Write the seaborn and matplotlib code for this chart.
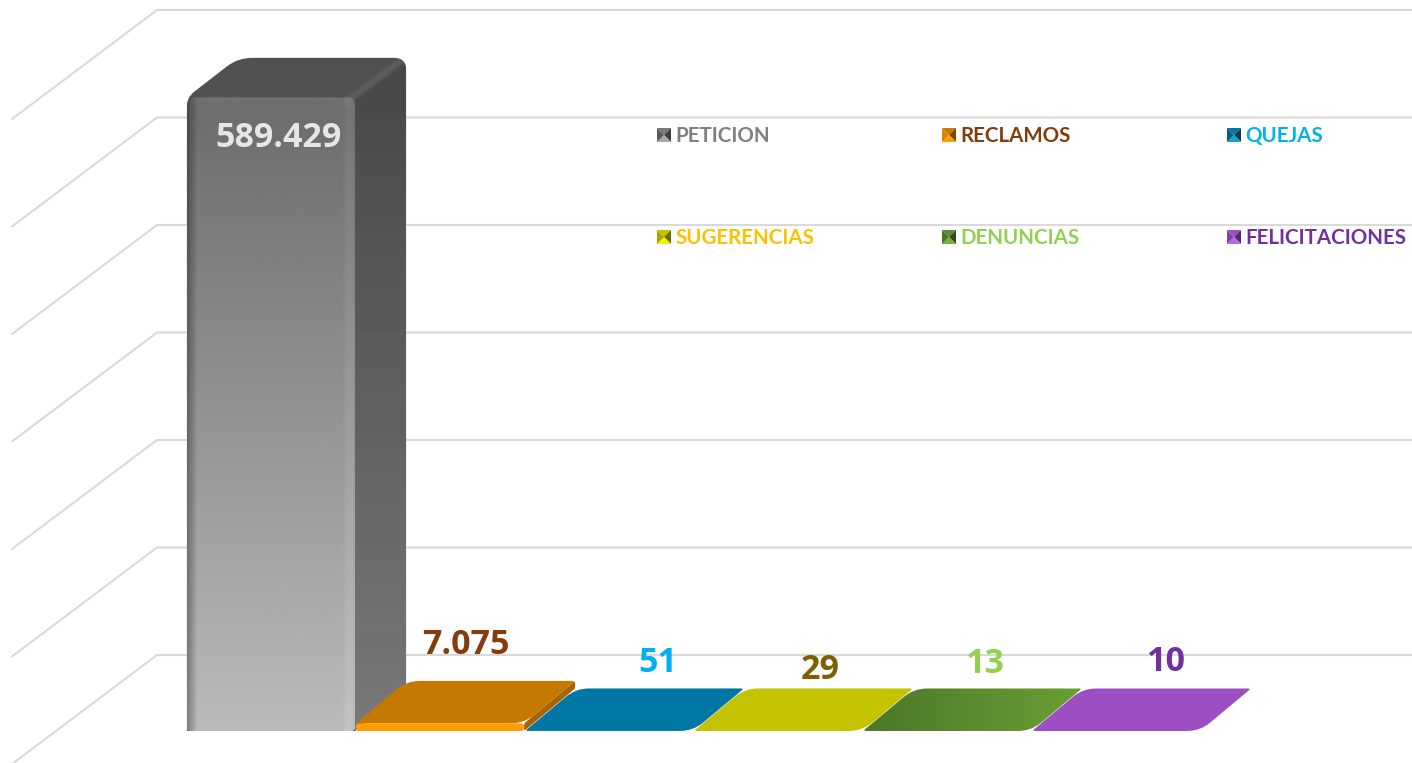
import numpy as np
import pandas as pd
import seaborn as sns
import matplotlib
matplotlib.use('Agg')
import matplotlib.pyplot as plt
from matplotlib.path import Path
from matplotlib.patches import PathPatch

categorias = ['PETICION', 'RECLAMOS', 'QUEJAS', 'SUGERENCIAS', 'DENUNCIAS', 'FELICITACIONES']
valores = [589429, 7075, 51, 29, 13, 10]
etiquetas = ['589.429', '7.075', '51', '29', '13', '10']
lineas = [0, 100000, 200000, 300000, 400000, 500000, 600000]

col_frente = ['#b8b8b8', '#ff9c00', '#0076a5', '#c3c300', '#5a8a2c', '#9b4fc2']
col_tapa = ['#505050', '#c47a00', '#0076a5', '#c3c300', '#5a8a2c', '#9b4fc2']
col_lado = ['#606060', '#a86400', '#005f85', '#8f8f00', '#3f6320', '#7a3a9c']
col_etiqueta = ['#e6e6e6', '#843c0c', '#00b0f0', '#7f6000', '#92d050', '#7030a0']
col_leyenda = ['#7f7f7f', '#843c0c', '#00b0f0', '#ffc000', '#92d050', '#7030a0']
# medium / dark side / darkest side / light side of the small legend keys
col_clave = [('#7a7a7a', '#5a5a5a', '#3e3e3e', '#a8a8a8'),
             ('#c47a00', '#d88600', '#7a4a00', '#ff9c00'),
             ('#0076a5', '#005f85', '#003e58', '#1a9ed0'),
             ('#c3c300', '#a8a800', '#6e6e00', '#f2f200'),
             ('#5a8a2c', '#4a7324', '#2e4a16', '#78b03c'),
             ('#9b4fc2', '#8440a8', '#54286e', '#b96ce0')]

# image is 1412x763 and value 0 of the front row sits at pixel y=731
ANCHO, ALTO = 1412, 763
X0, PASO = 271, 169.0
Y0, ESCALA = 731, 1.075 / 1000


def px(x, y):
    return (x - X0) / PASO, (Y0 - y) / ESCALA


def a_px(x, y):
    return x * PASO + X0, Y0 - y * ESCALA


def redondeado(puntos, radios):
    # closed path with rounded corners, points in data coords, radii in pixels
    p = np.array([a_px(*q) for q in puntos])
    n = len(p)
    verts, codes = [], []
    for i in range(n):
        a, b, c = p[i - 1], p[i], p[(i + 1) % n]
        r = min(radios[i], np.linalg.norm(a - b) / 2, np.linalg.norm(c - b) / 2)
        ini = b + (a - b) / np.linalg.norm(a - b) * r
        fin = b + (c - b) / np.linalg.norm(c - b) * r
        verts += [ini, b, fin]
        codes += [Path.MOVETO if i == 0 else Path.LINETO, Path.CURVE3, Path.CURVE3]
    verts.append(verts[0])
    codes.append(Path.CLOSEPOLY)
    return Path([px(*v) for v in verts], codes)


def relleno(ax, camino, arr, z):
    # paint a grey/RGB array inside a path
    caja = camino.get_extents()
    parche = PathPatch(camino, fc='none', ec='none', transform=ax.transData)
    ax.add_patch(parche)
    im = ax.imshow(arr, extent=[caja.x0, caja.x1, caja.y0, caja.y1], aspect='auto',
                   origin='upper', zorder=z, interpolation='bilinear', vmin=0, vmax=1,
                   cmap='gray')
    im.set_clip_path(parche)
    return im


df = pd.DataFrame({'categoria': categorias, 'valor': valores})

sns.set_theme(style='white')
fig = plt.figure(figsize=(ANCHO / 100, ALTO / 100), dpi=100)
ax = fig.add_axes([0, 0, 1, 1])
sns.barplot(data=df, x='categoria', y='valor', hue='categoria', palette=col_frente,
            saturation=1, width=0.995, dodge=False, legend=False, ax=ax)

xmin, ymin = px(0, ALTO)
xmax, ymax = px(ANCHO, 0)

# wall and floor lines of the 3D frame
back_x, _ = px(157, 0)
front_x, _ = px(12, 0)
_, back_y = px(0, 655)
_, front_y = px(0, 764)
for v in lineas:
    ax.plot([front_x, back_x, xmax], [v + front_y, v + back_y, v + back_y],
            color='#d9d9d9', lw=1.5, zorder=1, solid_joinstyle='miter')

prof_x = 51 / PASO
prof_y = 42.5 / ESCALA
prof_gris = 39.5 / ESCALA

barras = list(ax.patches)
for i, barra in enumerate(barras):
    x0, x1 = barra.get_x(), barra.get_x() + barra.get_width()
    h = barra.get_height()
    z = 3 if i == 0 else 20 - 2 * i
    barra.set_visible(False)

    if i == 0:
        # big grey column: silhouette first, side and front painted on it
        techo = h + prof_gris
        figura = [(x0, 0), (x0, h), (x0 + prof_x, techo), (x1 + prof_x, techo),
                  (x1 + prof_x, prof_gris), (x1, 0)]
        silueta = PathPatch(redondeado(figura, [1, 9, 14, 12, 1, 1]), fc=col_tapa[0],
                            ec='none', zorder=z)
        ax.add_patch(silueta)

        lado = [(x1, 0), (x1 + prof_x, prof_gris), (x1 + prof_x, techo), (x1, h)]
        grad = np.linspace(0.28, 0.47, 60)[:, None]
        relleno(ax, redondeado(lado, [1, 1, 12, 1]), grad, z + 0.05)
        # soft ridge between top and side
        for ancho, alfa in [(7, 0.25), (4, 0.45)]:
            ln, = ax.plot([x1 - 4 / PASO, x1 + prof_x - 6 / PASO],
                          [h - 1 / ESCALA, techo - 4 / ESCALA],
                          color='#666666', lw=ancho, alpha=alfa, zorder=z + 0.1,
                          solid_capstyle='round')
            ln.set_clip_path(silueta)

        alto_px, ancho_px = 640, 170
        vert = np.linspace(0.42, 0.73, alto_px)[:, None] * np.ones((alto_px, ancho_px))
        for k in range(10):
            vert[:, k] *= 0.68 + 0.032 * k
        for k in range(14):
            vert[:, -(k + 1)] += 0.035 * np.sin(np.pi * (k + 1) / 15)
        vert[:4, :] *= 1.06
        vert[4:10, :] *= 1.03
        frente = [(x0, 0), (x1, 0), (x1, h), (x0, h)]
        relleno(ax, redondeado(frente, [3, 3, 8, 9]), vert, z + 0.3)
    else:
        tapa = [(x0, h), (x1, h), (x1 + prof_x, h + prof_y), (x0 + prof_x, h + prof_y)]
        lado = [(x1, 0), (x1 + prof_x, prof_y), (x1 + prof_x, h + prof_y), (x1, h)]
        ax.add_patch(PathPatch(redondeado(lado, [2, 2, 2, 2]), fc=col_lado[i], ec='none', zorder=z))
        camino = redondeado(tapa, [3, 13, 3, 13])
        if categorias[i] == 'DENUNCIAS':
            # this one has a diagonal shade
            c1, c2 = np.array([0x4c, 0x78, 0x29]) / 255, np.array([0x6b, 0x9e, 0x34]) / 255
            t = np.linspace(0, 1, 170)[None, :, None] * np.ones((45, 170, 1))
            relleno(ax, camino, c1 + (c2 - c1) * t, z + 0.5)
        else:
            ax.add_patch(PathPatch(camino, fc=col_tapa[i], ec='none', zorder=z + 0.5))
        if h * ESCALA > 2:
            frente = [(x0, 0), (x1, 0), (x1, h), (x0, h)]
            ax.add_patch(PathPatch(redondeado(frente, [3, 3, 3, 3]), fc=col_frente[i],
                                   ec='none', zorder=z + 1))

# value labels, offsets in pixels from the top of each bar front
offsets = [(7, -41), (26, 78), (49, 68), (42, 61), (38, 67), (50, 69)]
for i, txt in enumerate(etiquetas):
    ax.annotate(txt, xy=(i, valores[i]), xytext=offsets[i], textcoords='offset pixels',
                ha='center', va='center', fontsize=24.5, fontweight='bold',
                family='Open Sans', color=col_etiqueta[i], zorder=40)

# legend drawn by hand, two rows of three
pos_leyenda = [(657, 128), (942, 128), (1227, 128), (657, 230), (942, 230), (1227, 230)]
for nombre, (lx, ly), color, clave in zip(categorias, pos_leyenda, col_leyenda, col_clave):
    s = 14
    c = (lx + s / 2, ly + s / 2)
    esq = [(lx, ly), (lx + s, ly), (lx + s, ly + s), (lx, ly + s)]
    orden = [clave[0], clave[2], clave[3], clave[1]]
    for k, col in enumerate(orden):
        tri = [px(*esq[k]), px(*esq[(k + 1) % 4]), px(*c)]
        ax.fill([t[0] for t in tri], [t[1] for t in tri], color=col, lw=0, zorder=30)
    tx, ty = px(lx + 18.5, ly + 8)
    ax.text(tx, ty, nombre, ha='left', va='center', fontsize=14.8, fontweight='bold',
            family='Lato', color=color, zorder=30)

ax.set_xlim(xmin, xmax)
ax.set_ylim(ymin, ymax)
ax.axis('off')
fig.savefig('out.png', dpi=100)
